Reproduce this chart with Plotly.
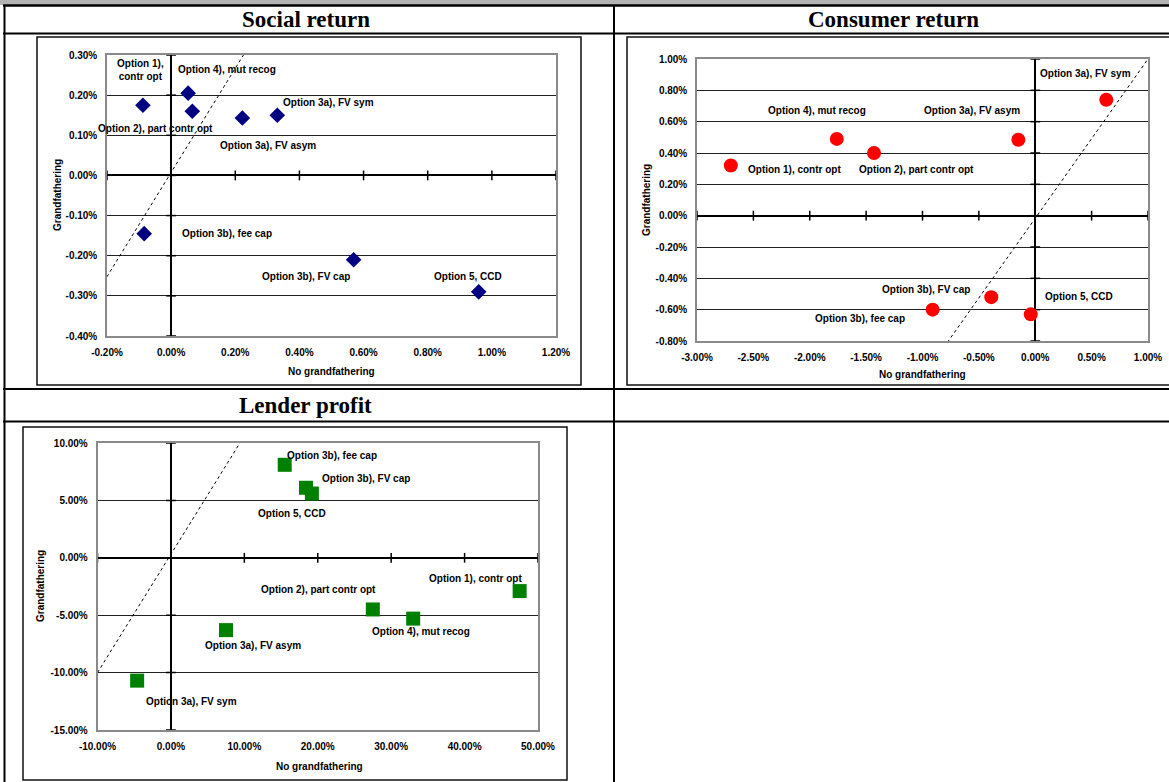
import plotly.graph_objects as go

W, H = 1169, 782

options = ["Option 1), contr opt", "Option 2), part contr opt", "Option 3a), FV sym",
           "Option 3a), FV asym", "Option 3b), fee cap", "Option 3b), FV cap",
           "Option 4), mut recog", "Option 5, CCD"]

# Social return (% values)
social_x = [-0.088, 0.066, 0.331, 0.222, -0.084, 0.569, 0.053, 0.959]
social_y = [0.175, 0.160, 0.150, 0.143, -0.145, -0.210, 0.205, -0.290]
social_diag_x = [-0.22, 0.247]
social_diag_y = [-0.278, 0.328]
social_xticks = [-0.2, 0.0, 0.2, 0.4, 0.6, 0.8, 1.0, 1.2]
social_xlabels = ["-0.20%", "0.00%", "0.20%", "0.40%", "0.60%", "0.80%", "1.00%", "1.20%"]
social_yticks = [-0.4, -0.3, -0.2, -0.1, 0.0, 0.1, 0.2, 0.3]
social_ylabels = ["-0.40%", "-0.30%", "-0.20%", "-0.10%", "0.00%", "0.10%", "0.20%", "0.30%"]

# Consumer return (% values)
consumer_x = [-2.70, -1.43, 0.63, -0.15, -0.91, -0.39, -1.76, -0.04]
consumer_y = [0.32, 0.40, 0.74, 0.485, -0.60, -0.52, 0.49, -0.63]
consumer_diag_x = [-0.81, 1.0]
consumer_diag_y = [-0.84, 1.0]
consumer_xticks = [-3.0, -2.5, -2.0, -1.5, -1.0, -0.5, 0.0, 0.5, 1.0]
consumer_xlabels = ["-3.00%", "-2.50%", "-2.00%", "-1.50%", "-1.00%", "-0.50%", "0.00%", "0.50%", "1.00%"]
consumer_yticks = [-0.8, -0.6, -0.4, -0.2, 0.0, 0.2, 0.4, 0.6, 0.8, 1.0]
consumer_ylabels = ["-0.80%", "-0.60%", "-0.40%", "-0.20%", "0.00%", "0.20%", "0.40%", "0.60%", "0.80%", "1.00%"]

# Lender profit (% values)
lender_x = [47.5, 27.5, -4.6, 7.5, 15.5, 18.4, 33.0, 19.2]
lender_y = [-2.9, -4.5, -10.7, -6.3, 8.1, 6.1, -5.3, 5.6]
lender_diag_x = [-10.0, 9.4]
lender_diag_y = [-10.0, 10.0]
lender_xticks = [-10, 0, 10, 20, 30, 40, 50]
lender_xlabels = ["-10.00%", "0.00%", "10.00%", "20.00%", "30.00%", "40.00%", "50.00%"]
lender_yticks = [-15, -10, -5, 0, 5, 10]
lender_ylabels = ["-15.00%", "-10.00%", "-5.00%", "0.00%", "5.00%", "10.00%"]

# label offsets in pixels (dx right, dy down), same order as options
social_off = [(-2, -35), (-37, 17), (51, -13), (26, 27), (83, 0), (-48, 17), (39, -24), (-11, -15)]
consumer_off = [(64, 4), (42, 16), (-21, -26), (-46, -29), (-73, 9), (-65, -8), (-20, -28), (48, -18)]
lender_off = [(-44, -13), (-54, -20), (54, 21), (27, 15), (47, -9), (60, -9), (8, 13), (-20, 20)]


def px(x):
    return x / W


def py(y):
    return 1 - y / H


FONT = "Liberation Sans, Arial, sans-serif"
small = dict(family=FONT, size=10, color="black", weight="bold")

fig = go.Figure()

charts = [
    ("", social_x, social_y, social_diag_x, social_diag_y, social_xticks, social_xlabels,
     social_yticks, social_ylabels, social_off, "diamond", 12, "#000080",
     (107, 556, 55, 336)),
    ("2", consumer_x, consumer_y, consumer_diag_x, consumer_diag_y, consumer_xticks, consumer_xlabels,
     consumer_yticks, consumer_ylabels, consumer_off, "circle", 14, "#ff0000",
     (697, 1148, 59, 341)),
    ("3", lender_x, lender_y, lender_diag_x, lender_diag_y, lender_xticks, lender_xlabels,
     lender_yticks, lender_ylabels, lender_off, "square", 14, "#008000",
     (97.5, 538, 443, 730)),
]

for sfx, xs, ys, dx, dy, xt, xl, yt, yl, offs, sym, size, color, box in charts:
    xa, ya = "x" + sfx, "y" + sfx
    # reference line
    fig.add_trace(go.Scatter(x=dx, y=dy, mode="lines", xaxis=xa, yaxis=ya,
                             line=dict(color="black", width=1, dash="dot"), hoverinfo="skip"))
    # small tick marks on the crossing axes
    fig.add_trace(go.Scatter(x=xt, y=[0] * len(xt), mode="markers", xaxis=xa, yaxis=ya,
                             marker=dict(symbol="line-ns", size=7, line=dict(color="black", width=1.5)),
                             hoverinfo="skip"))
    fig.add_trace(go.Scatter(x=[0] * len(yt), y=yt, mode="markers", xaxis=xa, yaxis=ya,
                             marker=dict(symbol="line-ew", size=7, line=dict(color="black", width=1.5)),
                             hoverinfo="skip"))
    fig.add_trace(go.Scatter(x=xs, y=ys, mode="markers", xaxis=xa, yaxis=ya, text=options,
                             marker=dict(symbol=sym, size=size, color=color, line=dict(width=0)),
                             cliponaxis=False))
    for i, name in enumerate(options):
        txt = name
        if sfx == "" and i == 0:
            txt = "Option 1),<br>contr opt"
        fig.add_annotation(x=xs[i], y=ys[i], xref=xa, yref=ya, text=txt, showarrow=False,
                           xshift=offs[i][0], yshift=-offs[i][1], font=small,
                           xanchor="center", yanchor="middle")

    x0, x1, y0, y1 = box
    fig.update_layout({
        "xaxis" + sfx: dict(domain=[px(x0), px(x1)], range=[xt[0], xt[-1]], anchor=ya,
                            tickvals=xt, ticktext=xl, ticks="", showgrid=False, automargin=False,
                            zeroline=True, zerolinecolor="black", zerolinewidth=2,
                            showline=True, linecolor="#8a8a8a", linewidth=1.5, mirror=True,
                            tickfont=small, ticklabelstandoff=6, fixedrange=True),
        "yaxis" + sfx: dict(domain=[py(y1), py(y0)], range=[yt[0], yt[-1]], anchor=xa,
                            tickvals=yt, ticktext=yl, ticks="", showgrid=True, automargin=False,
                            gridcolor="#222222", gridwidth=1,
                            zeroline=True, zerolinecolor="black", zerolinewidth=2,
                            showline=True, linecolor="#8a8a8a", linewidth=1.5, mirror=True,
                            tickfont=small, ticklabelstandoff=6, fixedrange=True),
    })

# axis titles
ax_titles = [(331, 371, "No grandfathering", 0), (57, 195, "Grandfathering", -90),
             (922, 374, "No grandfathering", 0), (647, 200, "Grandfathering", -90),
             (319, 766, "No grandfathering", 0), (40, 586, "Grandfathering", -90)]
for x, y, t, ang in ax_titles:
    fig.add_annotation(x=px(x), y=py(y), xref="paper", yref="paper", text=t, showarrow=False,
                       textangle=ang, font=small, xanchor="center", yanchor="middle")

# table cell titles
title_font = dict(family="Liberation Serif, serif", size=23, color="black", weight="bold")
for x, y, t in [(306, 19, "Social return"), (893, 19, "Consumer return"), (305, 405, "Lender profit")]:
    fig.add_annotation(x=px(x), y=py(y), xref="paper", yref="paper", text=t, showarrow=False,
                       font=title_font, xanchor="center", yanchor="middle")

shapes = []
shapes.append(dict(type="rect", xref="paper", yref="paper", x0=0, x1=1, y0=py(5), y1=py(0),
                   fillcolor="#b3b3b3", line=dict(width=0), layer="below"))
for y, w in [(5.5, 2.5), (33.5, 2), (389, 2), (421.5, 2)]:
    shapes.append(dict(type="line", xref="paper", yref="paper", x0=px(3), x1=1.01, y0=py(y), y1=py(y),
                       line=dict(color="black", width=w)))
for x in [4.5, 614]:
    shapes.append(dict(type="line", xref="paper", yref="paper", x0=px(x), x1=px(x), y0=py(5), y1=-0.01,
                       line=dict(color="black", width=2)))
# chart frames
for x0, x1, y0, y1 in [(37, 581, 37, 385), (627, 1172, 37, 385), (23, 567, 427, 780)]:
    shapes.append(dict(type="rect", xref="paper", yref="paper", x0=px(x0), x1=px(x1),
                       y0=py(y1), y1=py(y0), line=dict(color="#111111", width=1.5)))

fig.update_layout(
    template="none",
    width=W, height=H, margin=dict(l=0, r=0, t=0, b=0, autoexpand=False),
    paper_bgcolor="white", plot_bgcolor="white",
    showlegend=False, shapes=shapes,
    font=dict(family=FONT, color="black"),
)

fig.write_html("out.html", config={"displayModeBar": False},
               post_script="document.body.style.margin='0';document.body.style.overflow='hidden';")
